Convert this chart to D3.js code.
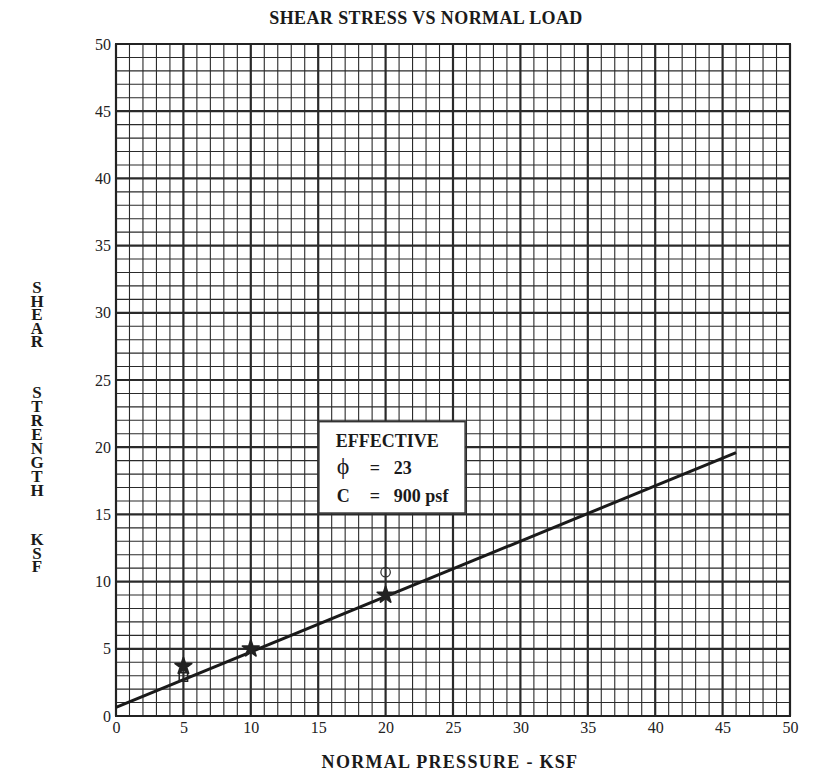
<!DOCTYPE html>
<html><head><meta charset="utf-8">
<script src="https://cdn.jsdelivr.net/npm/d3@7"></script>
<style>body{margin:0;background:#fff}svg{display:block}</style>
</head><body>
<script>
const xTicks = [0,5,10,15,20,25,30,35,40,45,50];
const yTicks = [0,5,10,15,20,25,30,35,40,45,50];
const starPoints = [[5,3.7],[10,5.0],[20,9.0]];
const squarePoints = [[5,2.9]];
const circlePoints = [[20,10.7]];
const fitLine = [[0,0.65],[46,19.6]];
const boxTitle = "EFFECTIVE";
const boxSymbols = ["\u03D5","C"];
const boxValues = ["23","900 psf"];
const yLabelWords = ["SHEAR","STRENGTH","KSF"];

const W=817,H=783;
const svg=d3.select("body").append("svg").attr("width",W).attr("height",H);
const x=d3.scaleLinear().domain([0,50]).range([116,790]);
const y=d3.scaleLinear().domain([0,50]).range([716,44]);
const font="'Liberation Serif','Times New Roman',serif";
const ink="#1a1a1a";

const g=svg.append("g");
const minor=d3.range(0,51);
g.selectAll(".vx").data(minor).join("line")
 .attr("x1",d=>x(d)).attr("x2",d=>x(d)).attr("y1",y(0)).attr("y2",y(50))
 .attr("stroke","#2a2a2a").attr("stroke-width",d=>d%5===0?2.2:1.1);
g.selectAll(".hy").data(minor).join("line")
 .attr("y1",d=>y(d)).attr("y2",d=>y(d)).attr("x1",x(0)).attr("x2",x(50))
 .attr("stroke","#2a2a2a").attr("stroke-width",d=>d%5===0?2.2:1.1);
g.append("rect").attr("x",x(0)).attr("y",y(50)).attr("width",x(50)-x(0)).attr("height",y(0)-y(50))
 .attr("fill","none").attr("stroke","#222").attr("stroke-width",2);

// axes labels
const xAxis=d3.axisBottom(x).tickValues(xTicks).tickSize(0).tickPadding(6);
const xa=svg.append("g").attr("transform",`translate(0,${y(0)})`).call(xAxis);
const yAxis=d3.axisLeft(y).tickValues(yTicks).tickSize(0).tickPadding(5);
const ya=svg.append("g").attr("transform",`translate(${x(0)},0)`).call(yAxis);
[xa,ya].forEach(a=>{a.select(".domain").remove();
 a.selectAll("text").attr("font-family",font).attr("font-size",16).attr("fill","#222");});

// fit line
svg.append("path").datum(fitLine)
 .attr("d",d3.line().x(d=>x(d[0])).y(d=>y(d[1])))
 .attr("stroke",ink).attr("stroke-width",3).attr("fill","none");

// markers
svg.selectAll(".sq").data(squarePoints).join("path")
 .attr("transform",d=>`translate(${x(d[0])},${y(d[1])})`)
 .attr("d",d3.symbol(d3.symbolSquare,70)).attr("fill","none").attr("stroke","#222").attr("stroke-width",1.5);
svg.selectAll(".ci").data(circlePoints).join("path")
 .attr("transform",d=>`translate(${x(d[0])},${y(d[1])})`)
 .attr("d",d3.symbol(d3.symbolCircle,70)).attr("fill","none").attr("stroke","#333").attr("stroke-width",1.3);
svg.selectAll(".st").data(starPoints).join("path")
 .attr("transform",d=>`translate(${x(d[0])},${y(d[1])})`)
 .attr("d",d3.symbol(d3.symbolStar,85)).attr("fill","#222").attr("stroke","#222").attr("stroke-width",1.8).attr("stroke-linejoin","round");

// annotation box
const bx=x(15.05), by=y(21.9), bw=x(25.9)-x(15.05), bh=y(15.1)-y(21.9);
svg.append("rect").attr("x",bx).attr("y",by).attr("width",bw).attr("height",bh)
 .attr("fill","#fff").attr("stroke","#333").attr("stroke-width",1.5);
svg.append("text").attr("x",bx+17).attr("y",by+25)
 .attr("font-family",font).attr("font-weight","bold").attr("font-size",18).attr("fill",ink).text(boxTitle);
boxSymbols.forEach((s,i)=>{
  const yy=by+52+i*28;
  svg.append("text").attr("x",bx+18).attr("y",yy).attr("font-family",font).attr("font-weight",i===0?"normal":"bold")
    .attr("font-size",i===0?24:18).attr("fill",ink).text(s);
  svg.append("text").attr("x",bx+51).attr("y",yy).attr("font-family",font).attr("font-weight","bold")
    .attr("font-size",18).attr("fill",ink).text("=");
  svg.append("text").attr("x",bx+75).attr("y",yy).attr("font-family",font).attr("font-weight","bold")
    .attr("font-size",18).attr("fill",ink).text(boxValues[i]);
});

// title
svg.append("text").attr("x",426).attr("y",24).attr("text-anchor","middle")
 .attr("font-family",font).attr("font-weight","bold").attr("font-size",18).attr("letter-spacing",0.4).attr("fill",ink)
 .text("SHEAR STRESS VS NORMAL LOAD");
svg.append("text").attr("x",450).attr("y",768).attr("text-anchor","middle")
 .attr("font-family",font).attr("font-weight","bold").attr("font-size",18).attr("letter-spacing",1.3).attr("fill",ink)
 .text("NORMAL PRESSURE - KSF");
// vertical stacked y label: one vertical text per word
const wordTop=[278,383,530];
const wordStep=[13.5,14,13.5];
yLabelWords.forEach((w,wi)=>{
  const t=svg.append("text").attr("x",37).attr("y",wordTop[wi])
   .attr("font-family",font).attr("font-weight","bold").attr("font-size",17).attr("fill",ink)
   .style("writing-mode","vertical-rl").style("text-orientation","upright")
   .attr("letter-spacing",0).text(w);
  const adv=t.node().getComputedTextLength()/w.length;
  t.attr("letter-spacing",(wordStep[wi]-adv).toFixed(2));
});
</script>
</body></html>
